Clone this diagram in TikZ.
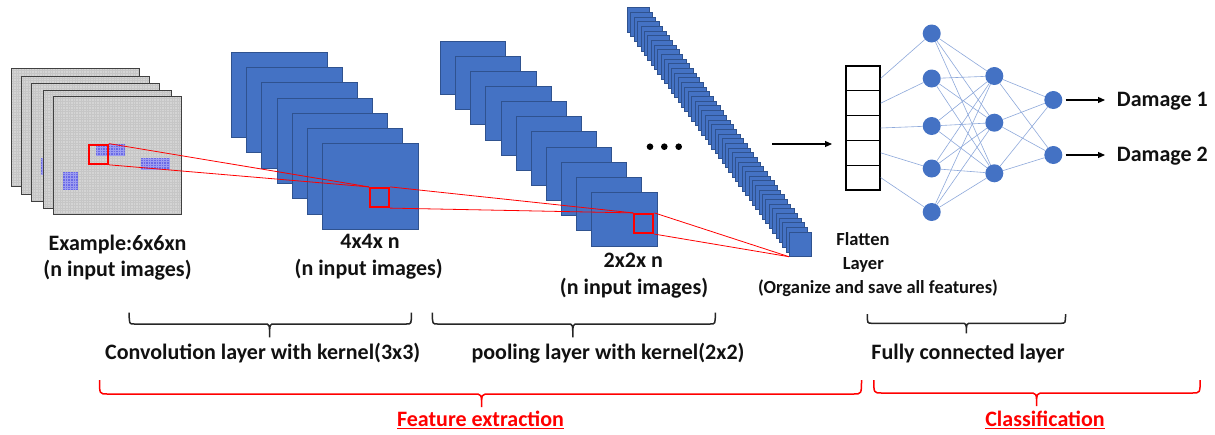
\documentclass[tikz,border=0pt]{standalone}
\usepackage{fontspec}
\setmainfont{Carlito}
\usetikzlibrary{arrows.meta}
\definecolor{cblue}{HTML}{4472C4}
\definecolor{cbord}{HTML}{2F528F}
\definecolor{nnline}{HTML}{8EA9DB}
\definecolor{imggray}{HTML}{D4D4D4}
\definecolor{imggrid}{HTML}{C6C6C6}
\definecolor{patchb}{HTML}{6A6AE6}
\definecolor{patchg}{HTML}{9C9CF0}
\definecolor{myred}{HTML}{FF0000}
\definecolor{txt}{HTML}{111111}
\newcommand{\drawbrace}[8]{%
  \draw[#1] (#2,#5) .. controls (#2,#6) .. ({#2+#8},#6) -- ({#4-#8},#6) .. controls (#4,#6) .. (#4,#7)
    (#4,#7) .. controls (#4,#6) .. ({#4+#8},#6) -- ({#3-#8},#6) .. controls (#3,#6) .. (#3,#5);}
\begin{document}
\begin{tikzpicture}[x=1pt,y=-1pt,
  imgf/.style={rectangle, draw=black!75, line width=1.3pt, fill=imggray, minimum width=128pt, minimum height=118pt, inner sep=0pt, anchor=north west,
    path picture={\draw[imggrid, line width=0.25pt] (path picture bounding box.south west) grid[step=2.6pt] (path picture bounding box.north east);}},
  patch/.style={rectangle, fill=patchb, inner sep=0pt, anchor=north west,
    path picture={\draw[patchg, line width=0.3pt] (path picture bounding box.south west) grid[step=2.6pt] (path picture bounding box.north east);}},
  cf/.style={rectangle, draw=cbord, line width=0.7pt, fill=cblue, inner sep=0pt, anchor=north west},
  convf/.style={cf, minimum width=95.5pt, minimum height=85.5pt},
  poolf/.style={cf, minimum width=65.3pt, minimum height=53.5pt},
  longf/.style={cf, minimum width=21.7pt, minimum height=24.5pt, line width=0.5pt},
  redsq/.style={rectangle, draw=myred, line width=2.2pt, minimum size=19pt, inner sep=0pt},
  redln/.style={myred, line width=0.8pt},
  dotn/.style={circle, fill=black, minimum size=6.6pt, inner sep=0pt},
  arr/.style={-{Triangle[length=7pt,width=6pt]}, line width=1.1pt, black},
  cell/.style={rectangle, draw=black, line width=1.3pt, fill=white, minimum width=34pt, minimum height=24.8pt, inner sep=0pt},
  nn/.style={circle, fill=cblue, minimum size=18pt, inner sep=0pt},
  nnl/.style={nnline, line width=0.6pt},
  lbl/.style={font=\fontsize{22}{26}\selectfont\bfseries, text=txt, inner sep=0pt, anchor=base},
  slbl/.style={lbl, font=\fontsize{18.5}{22}\selectfont\bfseries},
  rlbl/.style={lbl, text=myred},
  bbr/.style={line width=1.5pt, black!85},
  rbr/.style={line width=1.5pt, myred}]
\path[use as bounding box, fill=white] (0,0) rectangle (1215,434);

% input images
\node[imgf] (im1) at (11,68) {};
\node[imgf] (im2) at (20.5,75.5) {};
\node[imgf] (im3) at (30.5,83) {};
\node[patch, minimum width=9pt, minimum height=17.3pt] (pz) at (40.5,157.7) {};
\node[imgf] (im4) at (42.5,89.5) {};
\node[imgf] (im5) at (52.5,96) {};
\node[patch, minimum width=28.6pt, minimum height=12.7pt] (pa) at (95.7,143.3) {};
\node[patch, minimum width=29pt, minimum height=12.7pt] (pb) at (141,157.3) {};
\node[patch, minimum width=14.6pt, minimum height=17.6pt] (pc) at (62.7,171.7) {};

% convolution stack
\foreach \i in {0,...,6} { \node[convf] (cv\i) at ({231+15.18*\i},{51.7+15.27*\i}) {}; }
% pooling stack
\foreach \i in {0,...,10} { \node[poolf] (pl\i) at ({440+15.13*\i},{40.7+15.13*\i}) {}; }
% long stack
\foreach \i in {0,...,48} { \node[longf] (lg\i) at ({627+3.375*\i},{7.3+4.675*\i}) {}; }

% red squares
\node[redsq] (insq) at (98.2,154.2) {};
\node[redsq] (cvsq) at (379.5,197.5) {};
\node[redsq] (plsq) at (643.8,223.5) {};
\draw[redln] (insq.north east) -- (cvsq.north west);
\draw[redln] (insq.south east) -- (cvsq.north west);
\draw[redln] (cvsq.north east) -- (plsq.north west);
\draw[redln] (cvsq.south east) -- (plsq.north west);
\draw[redln] (plsq.north east) -- (lg48.south west);
\draw[redln] (plsq.south east) -- (lg48.south west);

% dots
\node[dotn] (dt1) at (650,146.7) {};
\node[dotn] (dt2) at (664.3,146.7) {};
\node[dotn] (dt3) at (678.7,146.7) {};

% arrow to flatten
\coordinate (fa) at (772,144);
\coordinate (fb) at (832,144);
\draw[arr] (fa) -- (fb);

% flatten layer
\foreach \i in {1,...,5} { \node[cell] (fc\i) at (863,{66+24.8*(\i-0.5)}) {}; }

% network nodes
\node[nn] (a1) at (931.7,33.5) {};
\node[nn] (a2) at (931.7,78.5) {};
\node[nn] (a3) at (931.7,126) {};
\node[nn] (a4) at (931.7,168.5) {};
\node[nn] (a5) at (931.7,212) {};
\node[nn] (b1) at (994.3,76) {};
\node[nn] (b2) at (994.3,122.7) {};
\node[nn] (b3) at (994.3,173.3) {};
\node[nn] (c1) at (1053.3,100) {};
\node[nn] (c2) at (1053.3,155) {};
\foreach \i in {1,...,5} { \draw[nnl] (fc\i.east) -- (a\i); }
\foreach \i in {1,...,5} { \foreach \j in {1,2,3} { \draw[nnl] (a\i) -- (b\j); } }
\foreach \j in {1,2,3} { \foreach \k in {1,2} { \draw[nnl] (b\j) -- (c\k); } }

% outputs
\node[lbl, anchor=base west] (dm1) at (1116.7,106.7) {Damage 1};
\node[lbl, anchor=base west] (dm2) at (1116.7,161.7) {Damage 2};
\coordinate (e1) at (1105,100);
\coordinate (e2) at (1105,155);
\draw[arr, shorten <=3pt] (c1) -- (e1);
\draw[arr, shorten <=3pt] (c2) -- (e2);

% labels
\node[lbl] (t1) at (117.5,250) {Example:6x6xn};
\node[lbl] (t2) at (117.5,276) {(n input images)};
\node[lbl] (t3) at (370,248.3) {4x4x n};
\node[lbl] (t4) at (368.7,275) {(n input images)};
\node[lbl] (t5) at (633.3,267.3) {2x2x n};
\node[lbl] (t6) at (634,294) {(n input images)};
\node[slbl] (f1) at (863,245.7) {Flatten};
\node[slbl] (f2) at (863.3,269.3) {Layer};
\node[slbl] (f3) at (878,293.3) {(Organize and save all features)};

% braces
\drawbrace{bbr}{129.2}{411.4}{269.6}{312.7}{324}{337.3}{5}
\drawbrace{bbr}{432.4}{715.3}{572.8}{312.7}{324}{337.3}{5}
\drawbrace{bbr}{867.3}{1065.5}{966.4}{314}{323.3}{333.3}{5}
\drawbrace{rbr}{99.5}{861.5}{481.6}{380}{394}{407}{8}
\drawbrace{rbr}{873.8}{1200.1}{1036.6}{380}{393}{406}{8}

\node[lbl] (bl1) at (262.7,359.3) {Convolution layer with kernel(3x3)};
\node[lbl] (bl2) at (608,359.3) {pooling layer with kernel(2x2)};
\node[lbl] (bl3) at (968,359.3) {Fully connected layer};
\node[rlbl] (rl1) at (480.5,426.7) {\underline{Feature extraction}};
\node[rlbl] (rl2) at (1045,426.7) {\underline{Classification}};
\end{tikzpicture}
\end{document}
